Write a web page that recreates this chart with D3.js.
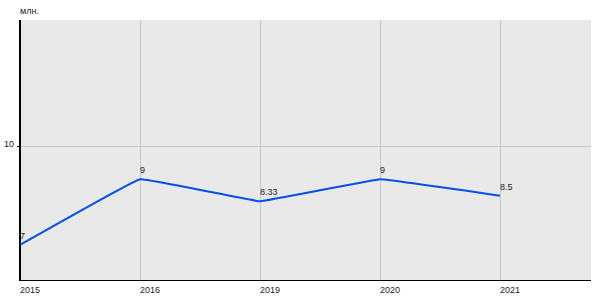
<!DOCTYPE html>
<html><head><meta charset="utf-8">
<script src="https://cdn.jsdelivr.net/npm/d3@7"></script>
<style>body{margin:0;background:#fff}svg{display:block}text{font-family:"Liberation Sans",Arial,sans-serif;font-size:9px;fill:#222}</style>
</head><body>
<script>
const years = ["2015","2016","2019","2020","2021"];
const values = [7, 9, 8.33, 9, 8.5];
const valueLabels = ["7","9","8.33","9","8.5"];
const yTicks = [10];
const unitLabel = "млн.";

const W=600,H=300, mLeft=20, mTop=20, mRight=591, mBottom=280;
const svg=d3.select("body").append("svg").attr("width",W).attr("height",H);
const x=d3.scalePoint().domain(years).range([mLeft,mLeft+120*(years.length-1)]);
const y=d3.scaleLinear().domain([5.934,13.85]).range([mBottom,mTop]);

svg.append("rect").attr("x",mLeft).attr("y",mTop).attr("width",mRight-mLeft).attr("height",mBottom-mTop).attr("fill","#e9e9e9");
// grid
svg.append("g").selectAll("line").data(years.slice(1)).join("line")
  .attr("x1",d=>x(d)+0.5).attr("x2",d=>x(d)+0.5).attr("y1",mTop).attr("y2",mBottom).attr("stroke","#c6c6c6");
svg.append("g").selectAll("line").data(yTicks).join("line")
  .attr("x1",mLeft).attr("x2",mRight).attr("y1",d=>Math.round(y(d))+0.5).attr("y2",d=>Math.round(y(d))+0.5).attr("stroke","#c6c6c6");
// axes
svg.append("line").attr("x1",mLeft).attr("x2",mLeft).attr("y1",mTop).attr("y2",mBottom+1).attr("stroke","#000").attr("stroke-width",2);
svg.append("line").attr("x1",mLeft).attr("x2",mRight).attr("y1",mBottom+0.5).attr("y2",mBottom+0.5).attr("stroke","#000");
svg.append("g").selectAll("line").data(yTicks).join("line")
  .attr("x1",mLeft-3).attr("x2",mLeft).attr("y1",d=>Math.round(y(d))+0.5).attr("y2",d=>Math.round(y(d))+0.5).attr("stroke","#000");
svg.append("g").selectAll("text").data(yTicks).join("text")
  .attr("x",mLeft-6).attr("y",d=>y(d)+1).attr("text-anchor","end").text(d=>d);
svg.append("g").selectAll("text").data(years).join("text")
  .attr("x",d=>x(d)).attr("y",293).text(d=>d);
svg.append("text").attr("x",20).attr("y",14).text(unitLabel);
// line
const line=d3.line().x((d,i)=>x(years[i])).y(d=>y(d)).curve(d3.curveCardinal.tension(0.85));
svg.append("path").datum(values).attr("d",line).attr("fill","none").attr("stroke","#0050e6").attr("stroke-width",2).attr("stroke-linejoin","round");
svg.append("g").selectAll("text").data(values).join("text")
  .attr("x",(d,i)=>x(years[i])).attr("y",d=>y(d)-6).text((d,i)=>valueLabels[i]);
</script>
</body></html>
